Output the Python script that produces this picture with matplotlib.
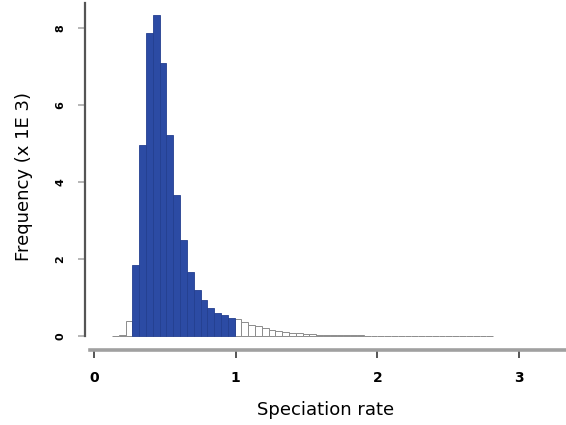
import matplotlib
matplotlib.use("Agg")
import matplotlib.pyplot as plt
import numpy as np

# Histogram of speciation rates (counts in thousands), bins of equal width
BIN_START = 0.128
BIN_WIDTH = 0.048

# grey bins below the highlighted range
low_counts = [0.02, 0.05, 0.40]
# highlighted (blue) bins, 0.272 .. 0.992
blue_counts = [1.86, 4.97, 7.87, 8.33, 7.09, 5.23, 3.67, 2.49, 1.68,
               1.21, 0.95, 0.74, 0.62, 0.56, 0.48]
# grey tail above 1
high_counts = [0.45, 0.38, 0.31, 0.26, 0.22, 0.18, 0.15, 0.12, 0.10, 0.08,
               0.07, 0.06, 0.05, 0.05, 0.04, 0.04, 0.03, 0.03, 0.03, 0.02,
               0.02, 0.02, 0.02, 0.02, 0.015, 0.015, 0.01, 0.01, 0.01, 0.01,
               0.01, 0.01, 0.01, 0.01, 0.01, 0.0, 0.01, 0.01]

x_ticks = [0, 1, 2, 3]
y_ticks = [0, 2, 4, 6, 8]

counts = low_counts + blue_counts + high_counts
edges = BIN_START + BIN_WIDTH * np.arange(len(counts))
n_low, n_blue = len(low_counts), len(blue_counts)
is_blue = np.zeros(len(counts), bool)
is_blue[n_low:n_low + n_blue] = True

plt.rcParams['font.family'] = ['Liberation Sans Narrow', 'DejaVu Sans']

fig = plt.figure(figsize=(5.66, 4.25), dpi=100)
ax = fig.add_axes([0.150, 0.1765, 0.850, 0.8165])

heights = np.array(counts)
ax.bar(edges[~is_blue], heights[~is_blue], width=BIN_WIDTH, align='edge',
       color='white', edgecolor='#8c8c8c', linewidth=0.7)
ax.bar(edges[is_blue], heights[is_blue], width=BIN_WIDTH, align='edge',
       color='#2c4ba4', edgecolor='#243f90', linewidth=0.6)

ax.set_xlim(-0.0635, 3.33)
ax.set_ylim(-0.35, 8.64)

for s in ['top', 'right']:
    ax.spines[s].set_visible(False)
ax.spines['left'].set_bounds(0, 8.64)
ax.spines['left'].set_color('#555555')
ax.spines['left'].set_linewidth(1.6)
ax.spines['bottom'].set_bounds(-0.03, 3.33)
ax.spines['bottom'].set_color('#a0a0a0')
ax.spines['bottom'].set_linewidth(2.6)

ax.set_xticks(x_ticks)
ax.set_xticklabels([str(v) for v in x_ticks], fontsize=10, fontweight='bold')
ax.set_yticks(y_ticks)
ax.set_yticklabels([str(v) for v in y_ticks], fontsize=8, rotation=90,
                   va='center', fontweight='bold')
ax.tick_params(axis='x', length=6, width=1.4, color='#555555', pad=9)
ax.tick_params(axis='y', length=5, width=1.2, color='#aaaaaa', pad=9)

ax.set_xlabel('Speciation rate', fontsize=13, labelpad=12)
ax.set_ylabel('Frequency (x 1E 3)', fontsize=13, labelpad=16)

fig.savefig('out.png', dpi=100)
